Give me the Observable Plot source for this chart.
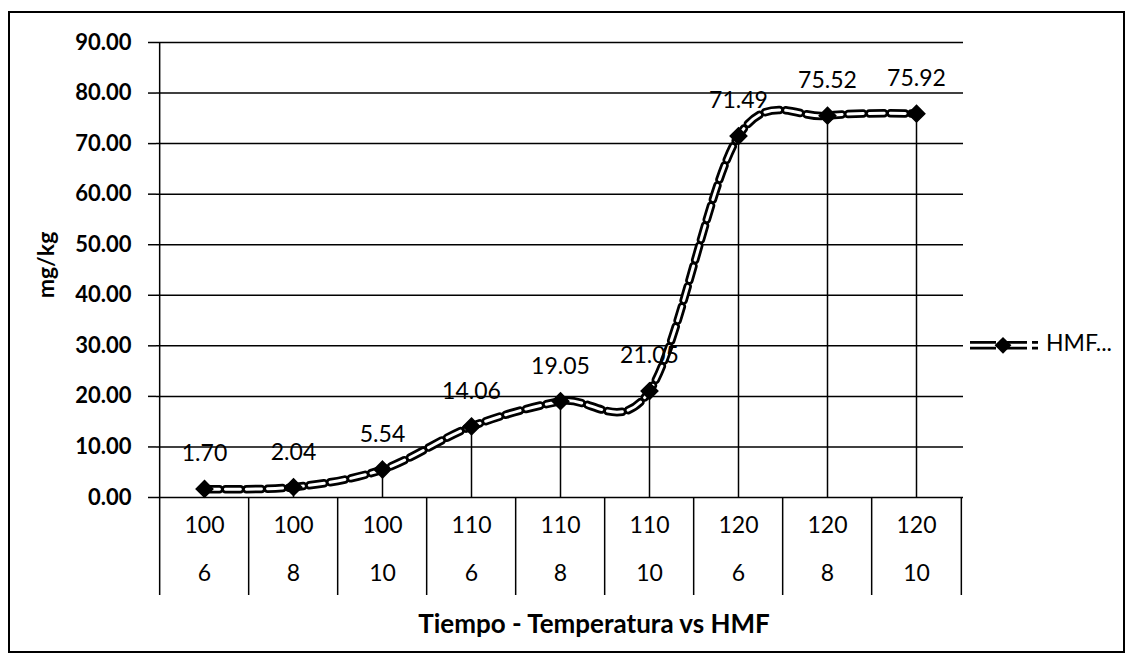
<!DOCTYPE html>
<html><head><meta charset="utf-8">
<script src="https://cdn.jsdelivr.net/npm/d3@7"></script>
<script src="https://cdn.jsdelivr.net/npm/@observablehq/plot@0.6"></script>
<style>
html,body{margin:0;padding:0;background:#fff;}
#chart{width:1130px;height:655px;overflow:hidden;}
</style></head><body><div id="chart"></div>
<script>
const temperatures = ["100","100","100","110","110","110","120","120","120"];
const times = ["6","8","10","6","8","10","6","8","10"];
const hmf = [1.70, 2.04, 5.54, 14.06, 19.05, 21.05, 71.49, 75.52, 75.92];
const yTicks = [0,10,20,30,40,50,60,70,80,90];
const seriesName = "HMF...";
const yTitle = "mg/kg";
const xTitle = "Tiempo - Temperatura vs HMF";

const data = hmf.map((v,i)=>({key: temperatures[i]+"|"+times[i]+"|"+i, temp: temperatures[i], time: times[i], value: v}));
const keys = data.map(d=>d.key);

const W=1130,H=655, mL=156, mR=167, mT=42, mB=158;
const step = (W-mL-mR)/keys.length;
const font = "Lato, 'Open Sans', sans-serif";
const lineW = 1.5;
const dash = "15,6";

const plot = Plot.plot({
  width: W, height: H, marginLeft: mL, marginRight: mR, marginTop: mT, marginBottom: mB,
  style: {fontFamily: font, fontSize: "22px", color:"#000", background:"#fff", overflow:"visible"},
  x: {type:"point", domain: keys, padding: 0.5, axis: null},
  y: {domain:[0,90]},
  marks: [
    Plot.ruleY(yTicks, {stroke:"#000", strokeWidth:lineW}),
    Plot.axisY(yTicks, {tickSize:8, tickPadding:17, tickFormat: d=>d.toFixed(2), fontWeight:"bold", fontSize:22, stroke:"#000", strokeWidth:lineW, strokeOpacity:1, label:null}),
    Plot.ruleX([keys[0]], {dx:-step/2, insetBottom:-98, stroke:"#000", strokeWidth:lineW}),
    Plot.ruleX(keys.slice(1), {dx:-step/2, insetTop:H-mT-mB, insetBottom:-98, stroke:"#000", strokeWidth:lineW}),
    Plot.ruleX([keys[keys.length-1]], {dx:step/2, insetTop:H-mT-mB, insetBottom:-98, stroke:"#000", strokeWidth:lineW}),
    Plot.ruleX(data, {x:"key", y1:0, y2:"value", stroke:"#000", strokeWidth:lineW}),
    Plot.line(data, {x:"key", y:"value", curve:"cardinal", stroke:"#000", strokeWidth:8.5, strokeDasharray:dash}),
    Plot.line(data, {x:"key", y:"value", curve:"cardinal", stroke:"#fff", strokeWidth:3, strokeDasharray:dash}),
    Plot.dot(data, {x:"key", y:"value", symbol:"diamond2", r:7.5, fill:"#000", stroke:"#000"}),
    Plot.text(data, {x:"key", y:"value", text: d=>d.value.toFixed(2), dy:-35, fontSize:23, fill:"#000"}),
    Plot.text(data, {x:"key", text:"temp", frameAnchor:"bottom", dy:35, fontSize:23, fill:"#000"}),
    Plot.text(data, {x:"key", text:"time", frameAnchor:"bottom", dy:83, fontSize:23, fill:"#000"})
  ]
});
document.getElementById("chart").appendChild(plot);

const svg = d3.select(plot);
const ys = plot.scale("y");
// outer border
svg.append("rect").attr("x",9).attr("y",12).attr("width",1115).attr("height",640)
  .attr("fill","none").attr("stroke","#000").attr("stroke-width",2);
// y title
svg.append("text").attr("transform","translate(48,265) rotate(-90)")
  .attr("text-anchor","middle").attr("dominant-baseline","middle")
  .attr("font-family",font).attr("font-size",23).attr("font-weight","bold").text(yTitle);
// x title
svg.append("text").attr("x",594).attr("y",626)
  .attr("text-anchor","middle").attr("dominant-baseline","middle")
  .attr("font-family",font).attr("font-size",26).attr("font-weight","bold").text(xTitle);
// legend
const ly = ys.apply(30);
const lg = svg.append("g");
lg.append("line").attr("x1",970).attr("x2",1038).attr("y1",ly).attr("y2",ly)
  .attr("stroke","#000").attr("stroke-width",8.5).attr("stroke-dasharray","26,5");
lg.append("line").attr("x1",970).attr("x2",1038).attr("y1",ly).attr("y2",ly)
  .attr("stroke","#fff").attr("stroke-width",3).attr("stroke-dasharray","26,5");
lg.append("path").attr("d", d3.symbol(d3.symbolDiamond2 || d3.symbolSquare2, 180)()).attr("transform",`translate(1003,${ly})`).attr("fill","#000");
lg.append("text").attr("x",1046).attr("y",ly).attr("text-anchor","start").attr("dominant-baseline","middle")
  .attr("font-family",font).attr("font-size",23).text(seriesName);
</script></body></html>
